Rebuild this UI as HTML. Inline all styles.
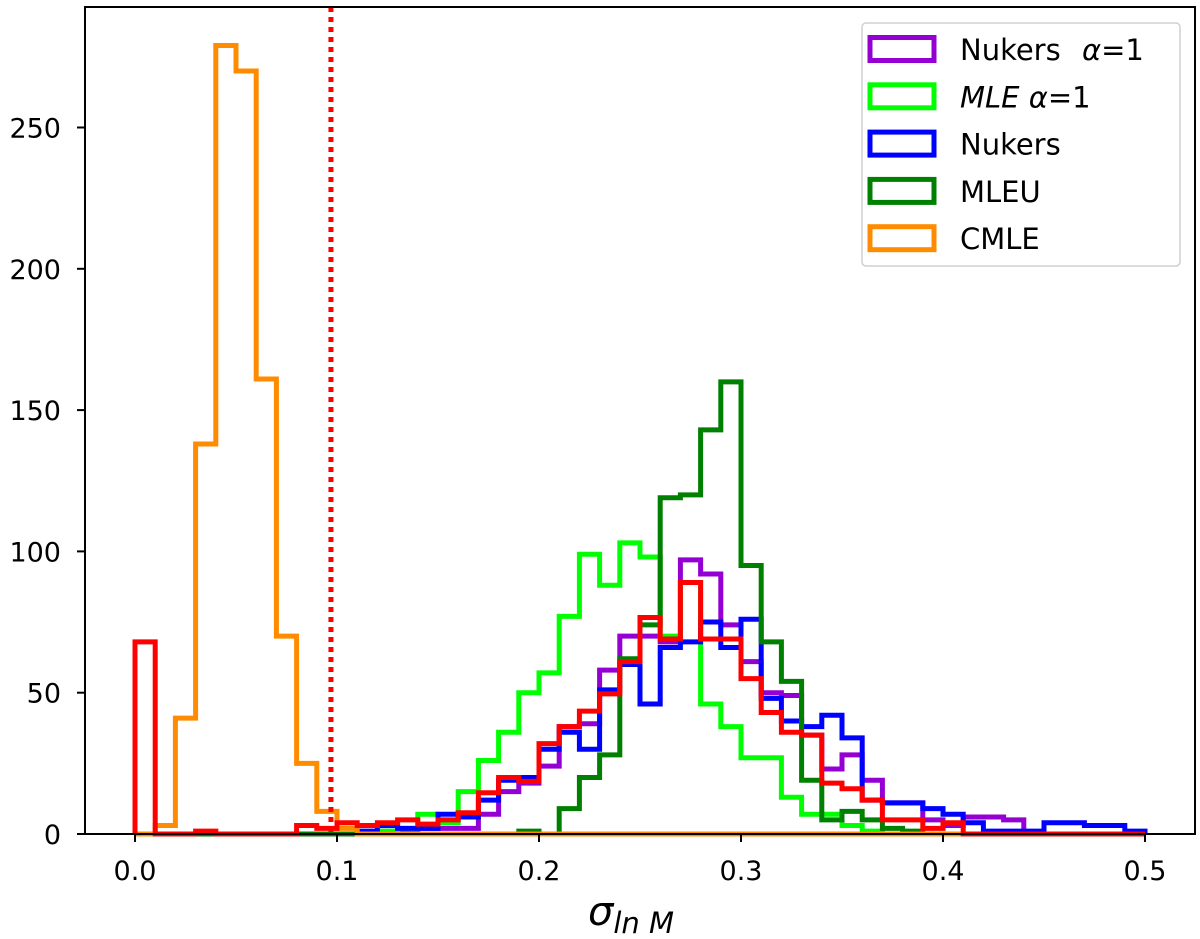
<!DOCTYPE html>
<html><head><meta charset="utf-8"><style>
html,body{margin:0;padding:0;background:#fff;}
svg{display:block;font-family:"DejaVu Sans","Liberation Sans",sans-serif;}
</style></head><body>
<svg id="chart" width="1200" height="939" viewBox="0 0 1200 939" xmlns="http://www.w3.org/2000/svg">
<g id="plot"></g>
<g id="axes"></g>
<g id="legend"></g>
</svg>
<script>
const binEdgesStart = 0.0;
const binWidth = 0.01;
const seriesNames = ["Nukers  α = 1","MLE α = 1","Nukers","MLEU","CMLE"];
const nukersAlpha = [0,0,0,0,0,0,0,0,0,0, 0,0,1,1,2,2,2,7,15,18, 24,38,39,58,70,70,68,97,92,74, 61,50,49,35,23,28,19,11,11,5, 3,6,6,5,0,0,0,0,0,0];
const mleAlpha = [0,0,0,0,0,0,0,0,0,0, 0,0,1,2,7,4,15,26,36,50, 57,77,99,88,103,98,70,89,46,38, 27,27,13,7,7,3,1,0,0,0, 0,0,0,0,0,0,0,0,0,0];
const nukers = [0,0,0,0,0,0,0,0,0,0, 0,1,3,2,2,7,6,12,19,20, 30,36,30,51,60,46,66,68,75,66, 76,48,40,38,42,34,12,11,11,9, 7,4,1,1,1,4,4,3,3,1];
const mleu = [0,0,0,0,0,0,0,0,0,0, 0,0,0,0,0,0,0,0,0,1, 0,9,20,28,62,74,119,120,143,160, 95,68,54,19,5,8,5,2,1,0, 0,0,0,0,0,0,0,0,0,0];
const cmle = [0,3,41,138,279,270,161,70,25,8, 2,0,0,0,0,0,0,0,0,0, 0,0,0,0,0,0,0,0,0,0, 0,0,0,0,0,0,0,0,0,0, 0,0,0,0,0,0,0,0,0,0];
const redSeries = [68,0,0,1,0,0,0,0,3,2, 4,3,4,5,3.5,5,7.5,14.6,20,18.6, 32,38,43.5,49.6,61,76.6,69,89,69,69, 55,43,36,35,18,16,12,5,5,2, 4,0,0,0,0,0,0,0,0,0];
const thresholdX = 0.097;
const xTicks = [0.0,0.1,0.2,0.3,0.4,0.5];
const xTickLabels = ["0.0","0.1","0.2","0.3","0.4","0.5"];
const yTicks = [0,50,100,150,200,250];
const yTickLabels = ["0","50","100","150","200","250"];

const L=85,T=7,R=1195,B=834;
const xs = v => 135 + v*2020;
const ys = v => B - v*2.826;
const NS="http://www.w3.org/2000/svg";
function mk(tag, parent, attrs){const e=document.createElementNS(NS,tag);for(const k in attrs)e.setAttribute(k,attrs[k]);parent.appendChild(e);return e;}
const plot=document.getElementById('plot'), axes=document.getElementById('axes'), legend=document.getElementById('legend');

function stepPath(vals){
  let d="M"+xs(binEdgesStart)+","+ys(0);
  vals.forEach((v,i)=>{const x0=xs(binEdgesStart+i*binWidth),x1=xs(binEdgesStart+(i+1)*binWidth);d+=" L"+x0+","+ys(v)+" L"+x1+","+ys(v);});
  d+=" L"+xs(binEdgesStart+vals.length*binWidth)+","+ys(0);
  return d;
}
const series=[[nukersAlpha,"#9400d3","hist-nukers-alpha1"],[mleAlpha,"#00ff00","hist-mle-alpha1"],[nukers,"#0000ff","hist-nukers"],[mleu,"#008000","hist-mleu"],[cmle,"#ff8c00","hist-cmle"],[redSeries,"#ff0000","hist-red"]];
series.forEach(s=>{
  const p=mk('path',plot,{d:stepPath(s[0]),fill:"none",stroke:s[1],"stroke-width":5,"stroke-linejoin":"miter"});
  
  
});
const th=mk('line',plot,{x1:xs(thresholdX),x2:xs(thresholdX),y1:T,y2:B,stroke:"#ff0000","stroke-width":5,"stroke-dasharray":"5,5"});



const fr=mk('rect',axes,{x:L,y:T,width:R-L,height:B-T,fill:"none",stroke:"#000","stroke-width":2});


xTicks.forEach((v,i)=>{
  mk('line',axes,{x1:xs(v),x2:xs(v),y1:B,y2:B+8,stroke:"#000","stroke-width":2});
  const t=mk('text',axes,{x:xs(v),y:B+46,"text-anchor":"middle","font-size":27,fill:"#000"});
  t.textContent=xTickLabels[i];
  
  
});
yTicks.forEach((v,i)=>{
  mk('line',axes,{x1:L-8,x2:L,y1:ys(v),y2:ys(v),stroke:"#000","stroke-width":2});
  const t=mk('text',axes,{x:L-24,y:ys(v)+10,"text-anchor":"end","font-size":27,fill:"#000"});
  t.textContent=yTickLabels[i];
  
  
});
const xl=mk('text',axes,{x:588,y:925,"font-size":40,"font-style":"italic",fill:"#000"});
xl.innerHTML='σ<tspan font-size="29" dy="8">ln M</tspan>';



const lb=mk('rect',legend,{x:862,y:23,width:318,height:243,rx:4,fill:"#fff",stroke:"#d0d0d0","stroke-width":1.5});


const legendColors=["#9400d3","#00ff00","#0000ff","#008000","#ff8c00"];
seriesNames.forEach((n,i)=>{
  const cy=49+i*47.3;
  const g=mk('g',legend,{});
  
  
  mk('rect',g,{x:870,y:cy-11.5,width:64,height:23,fill:"none",stroke:legendColors[i],"stroke-width":5});
  const t=mk('text',g,{x:960,y:cy+11,"font-size":29,fill:"#000"});
  if(i===0) t.innerHTML='Nukers <tspan dx="12" font-style="italic">α</tspan>=1';
  else if(i===1) t.innerHTML='<tspan font-style="italic">MLE α</tspan>=1';
  else t.textContent=n;
});
</script>
</body></html>
